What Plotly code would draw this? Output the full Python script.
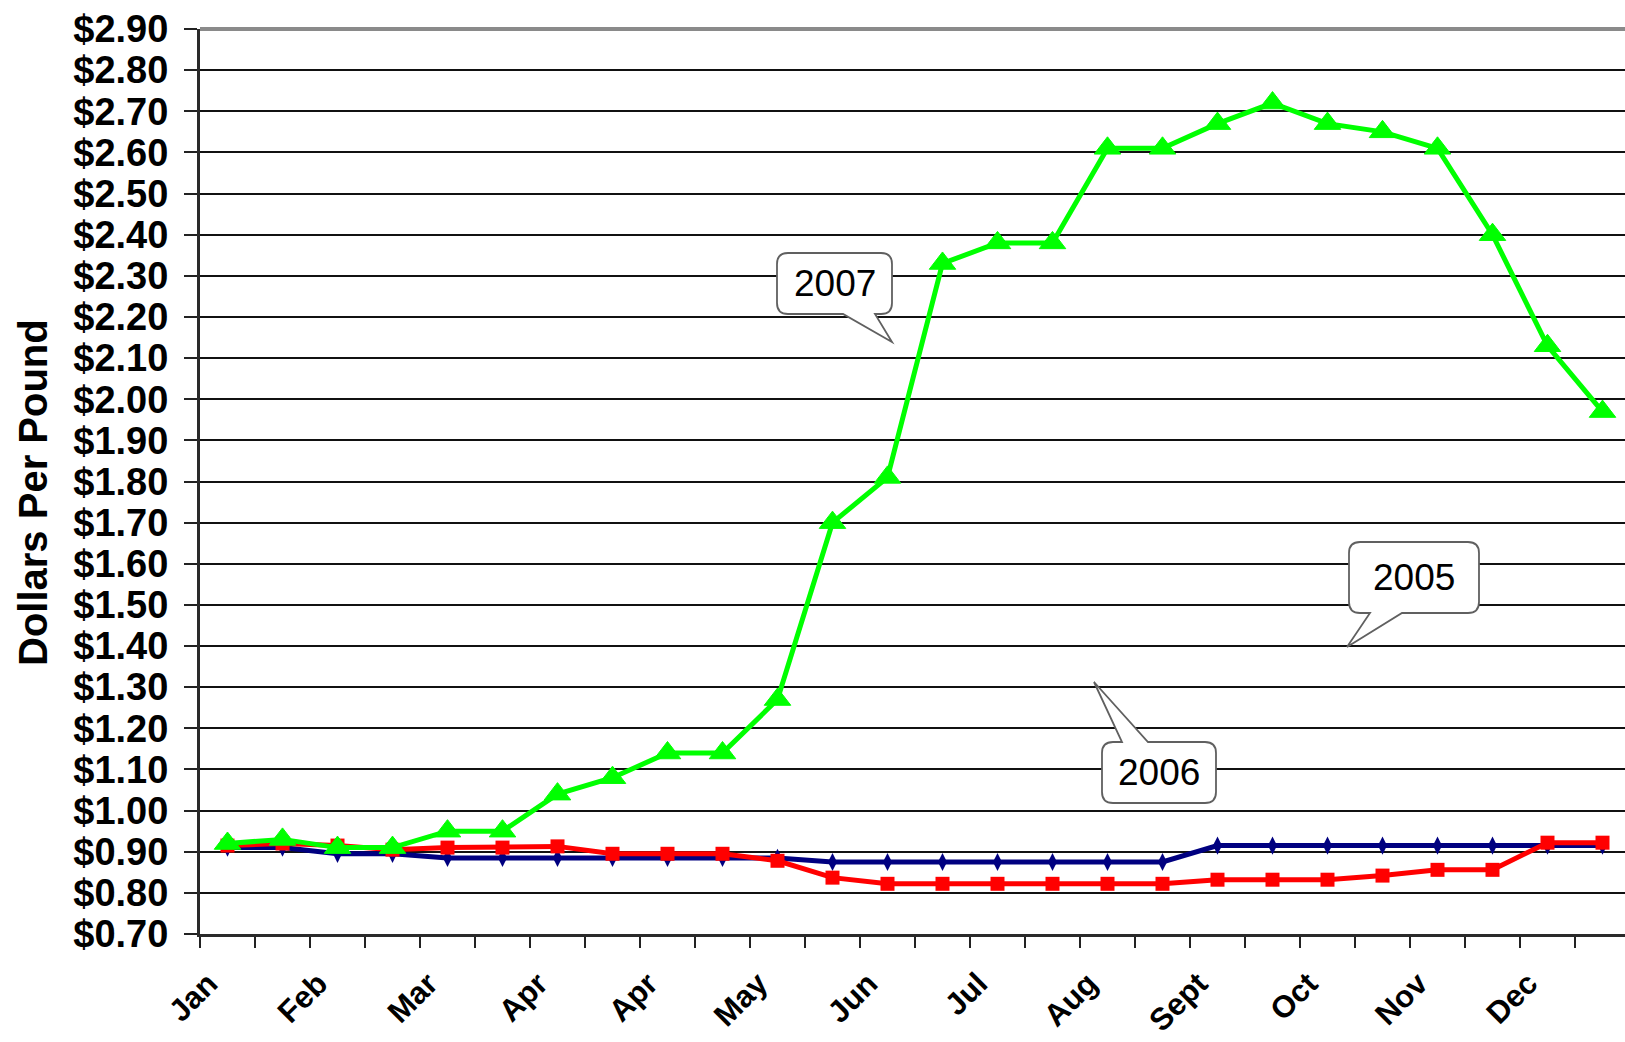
import plotly.graph_objects as go

# Twice-monthly price points, one series per year
month_labels = ["Jan", "Feb", "Mar", "Apr", "Apr", "May", "Jun",
                "Jul", "Aug", "Sept", "Oct", "Nov", "Dec"]
n_points = 26
periods = list(range(n_points))

price_2005 = [0.91, 0.91, 0.895, 0.895, 0.885, 0.885, 0.885, 0.885, 0.885, 0.885,
              0.885, 0.875, 0.875, 0.875, 0.875, 0.875, 0.875, 0.875, 0.915, 0.915,
              0.915, 0.915, 0.915, 0.915, 0.915, 0.915]
price_2006 = [0.915, 0.92, 0.915, 0.905, 0.91, 0.91, 0.913, 0.895, 0.895, 0.895,
              0.878, 0.837, 0.822, 0.822, 0.822, 0.822, 0.822, 0.822, 0.832, 0.832,
              0.832, 0.842, 0.856, 0.856, 0.922, 0.922]
price_2007 = [0.92, 0.93, 0.91, 0.91, 0.95, 0.95, 1.04, 1.08, 1.14, 1.14,
              1.27, 1.70, 1.81, 2.33, 2.38, 2.38, 2.61, 2.61, 2.67, 2.72,
              2.67, 2.65, 2.61, 2.40, 2.13, 1.97]

y_ticks = [round(0.70 + 0.10 * i, 2) for i in range(23)]
y_ticktext = [f"${v:.2f}" for v in y_ticks]

# Page geometry (pixels)
W, H = 1625, 1042
ML, MR, MT, MB = 200, 0, 29, 108
PW = W - ML - MR
PH = H - MT - MB

BOLD = "Liberation Sans, Arial, sans-serif"

fig = go.Figure()

fig.add_trace(go.Scatter(
    x=periods, y=price_2005, mode="lines+markers", name="2005",
    line=dict(color="#000080", width=5),
    marker=dict(symbol="diamond-tall", size=13, color="#000080"),
))
fig.add_trace(go.Scatter(
    x=periods, y=price_2006, mode="lines+markers", name="2006",
    line=dict(color="#FF0000", width=5),
    marker=dict(symbol="square", size=14, color="#FF0000"),
))
fig.add_trace(go.Scatter(
    x=periods, y=price_2007, mode="lines+markers", name="2007",
    line=dict(color="#00FF00", width=5),
    marker=dict(symbol="triangle-up", size=23, color="#00FF00",
                line=dict(color="#00FF00", width=1)),
))


def P(px, py):
    """Convert page pixels to paper coordinates."""
    return f"{(px - ML) / PW:.5f},{(H - MB - py) / PH:.5f}"


def callout_path(x0, y0, x1, y1, r, side, b0, b1, tip):
    cmds = [f"M{P(x0 + r, y0)}"]
    if side == "top":
        cmds += [f"L{P(b0, y0)}", f"L{P(*tip)}", f"L{P(b1, y0)}"]
    cmds += [f"L{P(x1 - r, y0)}", f"Q{P(x1, y0)} {P(x1, y0 + r)}",
             f"L{P(x1, y1 - r)}", f"Q{P(x1, y1)} {P(x1 - r, y1)}"]
    if side == "bottom":
        cmds += [f"L{P(b1, y1)}", f"L{P(*tip)}", f"L{P(b0, y1)}"]
    cmds += [f"L{P(x0 + r, y1)}", f"Q{P(x0, y1)} {P(x0, y1 - r)}",
             f"L{P(x0, y0 + r)}", f"Q{P(x0, y0)} {P(x0 + r, y0)}", "Z"]
    return " ".join(cmds)


callouts = [
    ("2007", (777, 253, 892, 314), "bottom", (843, 875), (892, 342)),
    ("2005", (1349, 542, 1479, 613), "bottom", (1370, 1402), (1347, 647)),
    ("2006", (1102, 742, 1216, 803), "top", (1122, 1148), (1094, 682)),
]

shapes = [
    # grey frame line along the top of the plot area
    dict(type="line", xref="paper", yref="paper", x0=0, x1=1, y0=1, y1=1,
         line=dict(color="#8a8a8a", width=4), layer="above"),
]
annotations = []
for label, (x0, y0, x1, y1), side, (b0, b1), tip in callouts:
    shapes.append(dict(
        type="path", xref="paper", yref="paper",
        path=callout_path(x0, y0, x1, y1, 11, side, b0, b1, tip),
        fillcolor="white", line=dict(color="#606060", width=1.8), layer="above",
    ))
    annotations.append(dict(
        xref="paper", yref="paper",
        x=((x0 + x1) / 2 - ML) / PW, y=(H - MB - (y0 + y1) / 2) / PH,
        text=label, showarrow=False, xanchor="center", yanchor="middle",
        font=dict(family="Liberation Sans, Arial, sans-serif", size=37, color="black"),
    ))

# Vertical axis title, set slightly below the plot-area midline
annotations.append(dict(
    xref="paper", yref="paper",
    x=(33 - ML) / PW, y=(H - MB - 493) / PH,
    text="Dollars Per Pound", textangle=-90, showarrow=False,
    xanchor="center", yanchor="middle",
    font=dict(family=BOLD, size=40, color="black", weight="bold"),
))

fig.update_layout(
    width=W, height=H,
    margin=dict(l=ML, r=MR, t=MT, b=MB, pad=0, autoexpand=False),
    paper_bgcolor="white", plot_bgcolor="white",
    showlegend=False,
    shapes=shapes, annotations=annotations,
    xaxis=dict(
        automargin=False,
        range=[-0.5, -0.5 + PW / 55.0],
        tickmode="array", tickvals=periods[::2], ticktext=month_labels,
        tickangle=-45, ticks="", ticklen=0,
        ticklabelstandoff=16, ticklabelshift=-19,
        tickfont=dict(family=BOLD, size=31, color="black", weight="bold"),
        showgrid=False, zeroline=False,
        showline=True, linecolor="#2a2a2a", linewidth=3,
        minor=dict(tickmode="array", tickvals=[i - 0.5 for i in range(n_points + 1)],
                   ticks="outside", ticklen=11, tickwidth=2, tickcolor="#222",
                   showgrid=False),
    ),
    yaxis=dict(
        automargin=False,
        range=[0.70, 2.90],
        tickmode="array", tickvals=y_ticks, ticktext=y_ticktext,
        ticks="outside", ticklen=13, tickwidth=2, tickcolor="#222",
        tickfont=dict(family=BOLD, size=38, color="black", weight="bold"),
        ticklabelstandoff=8,
        showgrid=True, gridcolor="#111", gridwidth=1.8,
        zeroline=False,
        showline=True, linecolor="#2a2a2a", linewidth=3,
    ),
)

fig.write_html("out.html")
